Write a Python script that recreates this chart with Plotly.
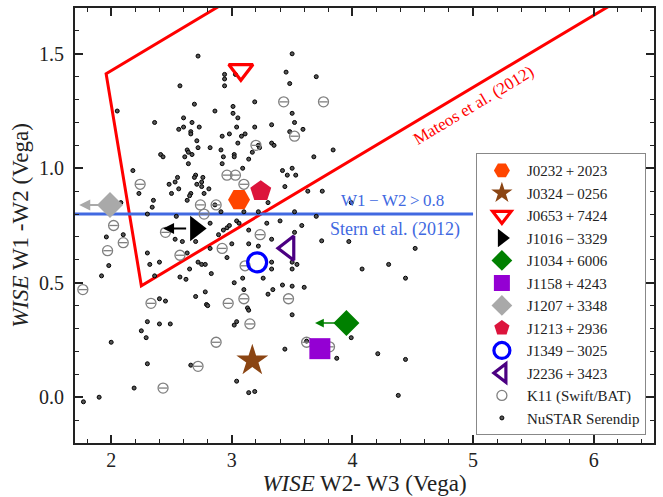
import plotly.graph_objects as go

# ---------------- data ----------------
serendip_x = [2.72, 2.94, 2.94, 2.94, 3.03, 2.57, 2.05, 2.36, 2.69, 2.86, 3.01, 3.01, 3.05, 3.19,
              2.60, 2.67, 2.56, 2.60, 2.73, 2.66, 2.66, 3.04, 3.11, 3.08, 2.98, 2.92, 3.19, 3.33,
              2.71, 2.72, 2.82, 2.91, 3.05, 2.63, 2.64, 2.67, 2.61, 2.41, 2.43, 3.02, 3.02, 2.93,
              2.92, 2.64, 3.14, 3.17, 3.22, 3.23, 3.33, 3.09, 2.18, 2.70, 2.69, 2.76, 2.55, 2.48,
              2.53, 2.56, 2.71, 2.75, 2.75, 2.81, 2.77, 2.50, 2.66, 2.65, 2.63, 2.23, 2.08, 2.35,
              2.34, 2.86, 2.91, 3.10, 3.04, 3.06, 2.30, 2.54, 3.22, 3.29, 3.30, 2.82, 2.89, 2.93,
              2.96, 2.98, 3.14, 3.33, 2.10, 1.96, 2.53,
              3.50, 3.45, 3.70, 3.48, 3.50, 3.52, 3.48, 3.59, 3.35, 3.84, 3.68, 3.42, 3.50, 3.46,
              3.53, 3.44, 3.63, 3.75, 3.52, 3.70, 3.40, 3.58, 3.52, 3.99,
              3.745, 3.97, 4.52, 4.30, 4.08, 4.44, 3.33, 3.33, 3.50, 3.54, 3.50, 3.26, 3.42, 3.50,
              3.60, 3.34, 3.30, 3.50, 3.99, 3.44, 3.62, 3.87, 4.21, 4.44, 4.38,
              2.59, 2.70, 3.00, 3.14, 3.22, 2.30, 2.63, 2.82, 2.96, 1.98, 1.92, 2.32, 2.40, 2.72,
              2.75, 2.78, 2.65, 2.36, 2.57, 2.62, 2.83, 3.02, 3.09, 3.10, 2.70, 2.78, 2.40, 2.45,
              2.79, 2.80, 3.13, 3.14, 2.30, 2.40, 2.49, 3.04, 3.02, 2.25, 2.29, 2.00, 2.30, 2.66,
              3.04, 3.14, 3.19, 2.19, 1.90, 1.77]
serendip_y = [1.49, 1.41, 1.39, 1.36, 1.41, 1.36, 1.25, 1.20, 1.28, 1.25, 1.27, 1.24, 1.22, 1.29,
              1.22, 1.20, 1.17, 1.18, 1.18, 1.16, 1.15, 1.18, 1.15, 1.14, 1.15, 1.14, 1.18, 1.19,
              1.12, 1.09, 1.09, 1.08, 1.11, 1.08, 1.07, 1.06, 1.05, 1.06, 1.05, 1.06, 1.05, 1.05,
              1.02, 1.02, 1.04, 1.07, 1.10, 1.09, 1.11, 1.00, 0.99, 0.97, 0.96, 0.96, 0.96, 0.93,
              0.94, 0.91, 0.93, 0.94, 0.92, 0.91, 0.89, 0.89, 0.89, 0.88, 0.86, 0.89, 0.85, 0.86,
              0.83, 0.84, 0.81, 0.81, 0.77, 0.76, 0.80, 0.79, 0.81, 0.76, 0.85, 0.76, 0.71, 0.73,
              0.74, 0.75, 0.73, 0.69, 0.71, 0.70, 0.69,
              1.50, 1.42, 1.40, 1.37, 1.24, 1.20, 1.16, 1.17, 1.10, 1.08, 1.05, 0.99, 1.00, 0.97,
              0.97, 0.92, 0.90, 0.90, 0.81, 0.79, 0.77, 0.75, 0.72, 0.85,
              0.683, 0.68, 0.65, 0.58, 0.56, 0.52, 0.59, 0.56, 0.59, 0.58, 0.56, 0.52, 0.49, 0.485,
              0.48, 0.47, 0.45, 0.36, 0.26, 0.21, 0.245, 0.17, 0.19, 0.165, 0.008,
              0.68, 0.68, 0.67, 0.67, 0.66, 0.63, 0.63, 0.65, 0.61, 0.575, 0.53, 0.58, 0.59, 0.59,
              0.58, 0.58, 0.56, 0.53, 0.525, 0.515, 0.54, 0.50, 0.52, 0.47, 0.44, 0.46, 0.43, 0.42,
              0.405, 0.40, 0.39, 0.38, 0.33, 0.32, 0.32, 0.33, 0.315, 0.29, 0.26, 0.24, 0.146, 0.14,
              0.07, 0.02, 0.025, 0.04, 0.00, -0.02]

k11_x = [2.24, 2.02, 2.10, 2.45, 2.74, 2.87, 2.77, 2.96, 3.03, 3.10, 3.20, 3.235,
         3.43, 3.76, 3.52, 3.47, 3.62, 3.81,
         1.97, 1.765, 2.33, 2.57, 2.92, 3.11, 3.10, 2.97, 3.15, 2.87, 2.72, 2.43]
k11_y = [0.93, 0.75, 0.675, 0.72, 0.84, 0.84, 0.80, 0.97, 0.97, 0.93, 1.10, 0.71,
         1.29, 1.29, 1.14, 0.43, 0.24, 0.22,
         0.64, 0.47, 0.41, 0.62, 0.65, 0.574, 0.43, 0.41, 0.32, 0.24, 0.135, 0.04]

src_names = ["J0232\u2009+\u20092023", "J0324\u2009\u2212\u20090256", "J0653\u2009+\u20097424",
             "J1016\u2009\u2212\u20093329", "J1034\u2009+\u20096006", "J1158\u2009+\u20094243",
             "J1207\u2009+\u20093348", "J1213\u2009+\u20092936", "J1349\u2009\u2212\u20093025",
             "J2236\u2009+\u20093423"]
src_x = [3.06, 3.17, 3.075, 2.70, 3.95, 3.73, 1.99, 3.24, 3.21, 3.47]
src_y = [0.863, 0.16, 1.43, 0.737, 0.324, 0.212, 0.84, 0.90, 0.589, 0.651]
# W2-W3 upper limits (arrow tip), None if detection
src_limit_x = [None, None, None, 2.43, 3.69, None, 1.735, None, None, None]
src_symbols = ["hexagon2", "star", "triangle-down-open", "triangle-right", "diamond", "square",
               "diamond", "pentagon", "circle-open", "triangle-left-open"]
src_colors = ["#FF4500", "#8B4513", "#FF0000", "#000000", "#008000", "#9400D3",
              "#A9A9A9", "#DC143C", "#0000FF", "#4B0082"]
src_sizes = [22, 24, 21, 22, 20, 21, 20, 22, 19, 21]

# Mateos et al. (2012) wedge: y = 0.315x + 0.796, y = 0.315x - 0.222, y = -3.172x + 7.624
wedge_x = [8.0, 1.958, 2.250, 8.0]
wedge_y = [3.316, 1.413, 0.487, 2.298]
stern_x = [1.7, 5.0]
stern_y = [0.8, 0.8]

FONT = "Liberation Serif"
fig = go.Figure()

fig.add_trace(go.Scatter(x=wedge_x, y=wedge_y, mode="lines",
                         line=dict(color="#FF0000", width=3), showlegend=False, hoverinfo="skip"))
fig.add_trace(go.Scatter(x=stern_x, y=stern_y, mode="lines",
                         line=dict(color="#4169E1", width=3), showlegend=False, hoverinfo="skip"))

fig.add_trace(go.Scatter(x=serendip_x, y=serendip_y, mode="markers", name="NuSTAR Serendip",
                         marker=dict(symbol="circle", size=4, color="#555555",
                                     line=dict(color="#000000", width=1)),
                         legendrank=1012))
fig.add_trace(go.Scatter(x=k11_x, y=k11_y, mode="markers", name="K11 (Swift/BAT)",
                         marker=dict(symbol="circle-open", size=10, color="#808080",
                                     line=dict(color="#808080", width=1.3)),
                         legendgroup="k11", legendrank=1011))
fig.add_trace(go.Scatter(x=k11_x, y=k11_y, mode="markers", showlegend=False,
                         marker=dict(symbol="line-ew", size=6,
                                     line=dict(color="#808080", width=1.3)),
                         legendgroup="k11"))

for i, nm in enumerate(src_names):
    sym = src_symbols[i]
    col = src_colors[i]
    if sym.endswith("-open"):
        mk = dict(symbol=sym, size=src_sizes[i], color=col, line=dict(color=col, width=3.2))
    else:
        mk = dict(symbol=sym, size=src_sizes[i], color=col, line=dict(color=col, width=0))
    fig.add_trace(go.Scatter(x=[src_x[i]], y=[src_y[i]], mode="markers", name=nm,
                             marker=mk, legendrank=1000 + i))
    if src_limit_x[i] is not None:
        fig.add_annotation(x=src_limit_x[i], y=src_y[i], ax=src_x[i], ay=src_y[i],
                           xref="x", yref="y", axref="x", ayref="y", text="",
                           showarrow=True, arrowhead=2, arrowsize=1.1,
                           arrowwidth=2 if i != 4 else 1.6, arrowcolor=col,
                           startstandoff=8, standoff=0)

fig.add_annotation(x=4.336, y=0.858, xref="x", yref="y", text="W1\u2009\u2212\u2009W2\u2009>\u20090.8",
                   showarrow=False, font=dict(family=FONT, size=17, color="#4169E1"))
fig.add_annotation(x=4.35, y=0.733, xref="x", yref="y", text="Stern et al. (2012)",
                   showarrow=False, font=dict(family=FONT, size=18, color="#4169E1"))
fig.add_annotation(x=5.0, y=1.275, xref="x", yref="y", text="Mateos et al. (2012)",
                   showarrow=False, textangle=-31, font=dict(family=FONT, size=17, color="#FF0000"))

axis_common = dict(showgrid=False, zeroline=False, showline=True, linecolor="#222222", linewidth=2,
                   mirror="allticks", ticks="inside", ticklen=8, tickwidth=1.5, tickcolor="#222222",
                   tickfont=dict(family=FONT, size=20, color="#222222"))

fig.update_xaxes(range=[1.7, 6.5], tickmode="linear", tick0=2, dtick=1, ticklabelstandoff=-2,
                 minor=dict(ticks="inside", ticklen=4, tickwidth=1.2, tickcolor="#222222", dtick=0.2, tick0=2),
                 title=dict(text="<i>WISE</i> W2- W3 (Vega)", font=dict(family=FONT, size=23, color="#222222"),
                            standoff=4),
                 **axis_common)
fig.update_yaxes(range=[-0.2, 1.7], tickmode="linear", tick0=0, dtick=0.5, tickformat=".1f",
                 ticklabelstandoff=5,
                 minor=dict(ticks="inside", ticklen=4, tickwidth=1.2, tickcolor="#222222", dtick=0.1, tick0=0),
                 title=dict(text="<i>WISE</i> W1 -W2 (Vega)", font=dict(family=FONT, size=23, color="#222222"),
                            standoff=4),
                 **axis_common)

fig.update_layout(
    width=663, height=497,
    margin=dict(l=75, r=9, t=8, b=54, autoexpand=False),
    paper_bgcolor="white", plot_bgcolor="white",
    font=dict(family=FONT, color="#222222"),
    legend=dict(x=0.986, y=0.018, xanchor="right", yanchor="bottom",
                bgcolor="white", bordercolor="#888888", borderwidth=1,
                font=dict(family=FONT, size=15, color="#222222"),
                itemsizing="trace", itemwidth=40, tracegroupgap=0, traceorder="normal"),
)

fig.write_html("out.html")
